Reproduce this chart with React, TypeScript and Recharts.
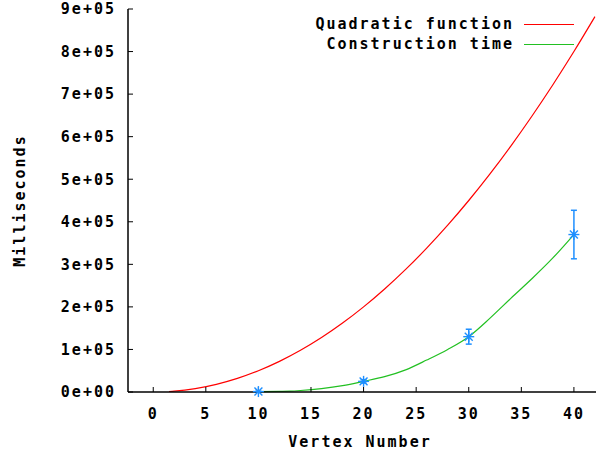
import React from 'react';
import { ComposedChart, Line, Scatter, XAxis, YAxis, ErrorBar } from 'recharts';

// Quadratic function curve (sampled)
const quadX = [1.5, 2, 4, 6, 8, 10, 12, 14, 16, 18, 20, 22, 24, 26, 28, 30, 32, 34, 36, 38, 40, 42];
const quadY = [1125, 2000, 8000, 18000, 32000, 50000, 72000, 98000, 128000, 162000, 200000, 242000, 288000, 338000, 392000, 450000, 512000, 578000, 648000, 722000, 800000, 882000];

// Construction time fitted curve
const fitX = [10, 12, 13, 14, 16, 18, 20, 22, 24, 26, 28, 30, 32, 34, 36, 38, 40];
const fitY = [1000, 1500, 2000, 3500, 8000, 15000, 25000, 36000, 52000, 75000, 100000, 130000, 173000, 220000, 266000, 315000, 370000];

// Measured points with error
const measX = [10, 20, 30, 40];
const measY = [1000, 25000, 130000, 370000];
const measErr = [1000, 4000, 17500, 57000];

const xTicks = [0, 5, 10, 15, 20, 25, 30, 35, 40];
const yTicks = [0, 100000, 200000, 300000, 400000, 500000, 600000, 700000, 800000, 900000];

const seriesNames = ['Quadratic function', 'Construction time'];
const RED = '#ff0000';
const GREEN = '#22c022';
const BLUE = '#1e8fff';

const quadData = quadX.map((x, i) => ({ x, y: quadY[i] }));
const fitData = fitX.map((x, i) => ({ x, y: fitY[i] }));
const measData = measX.map((x, i) => ({ x, y: measY[i], err: measErr[i] }));

const FONT = 'DejaVu Sans Mono';
const FS = 15;
const LS = '2px';
const tickStyle = { fill: '#000', fontSize: FS, fontFamily: FONT, fontWeight: 'bold', letterSpacing: LS } as any;

const fmtY = (v: number) => (v === 0 ? '0e+00' : `${Math.round(v / 100000)}e+05`);

const Star = (props: any) => {
  const { cx, cy } = props;
  if (cx == null || cy == null) return <g />;
  const r = 5.5;
  const d = r * 0.72;
  return (
    <g stroke={BLUE} strokeWidth={1.4}>
      <line x1={cx - r} y1={cy} x2={cx + r} y2={cy} />
      <line x1={cx} y1={cy - r} x2={cx} y2={cy + r} />
      <line x1={cx - d} y1={cy - d} x2={cx + d} y2={cy + d} />
      <line x1={cx - d} y1={cy + d} x2={cx + d} y2={cy - d} />
      <circle cx={cx} cy={cy} r={1.8} fill={BLUE} stroke="none" />
    </g>
  );
};

const YLabel = (props: any) => {
  const vb = props.viewBox || {};
  const cx = 20;
  const cy = (vb.y || 0) + (vb.height || 0) / 2;
  return (
    <text
      x={cx}
      y={cy}
      transform={`rotate(-90 ${cx} ${cy})`}
      textAnchor="middle"
      dominantBaseline="central"
      fontFamily={FONT}
      fontWeight="bold"
      fontSize={FS}
      letterSpacing={LS}
      fill="#000"
    >
      Milliseconds
    </text>
  );
};

const XLabel = (props: any) => {
  const vb = props.viewBox || {};
  const cx = (vb.x || 0) + (vb.width || 0) / 2;
  return (
    <text
      x={cx - 2}
      y={447}
      textAnchor="middle"
      fontFamily={FONT}
      fontWeight="bold"
      fontSize={FS}
      letterSpacing={LS}
      fill="#000"
    >
      Vertex Number
    </text>
  );
};

export default function App() {
  const legendColors = [RED, GREEN];
  return (
    <div style={{ position: 'absolute', left: 0, top: 0, width: 602, height: 455, background: '#fff' }}>
      <ComposedChart width={602} height={455} margin={{ top: 9, right: 6, bottom: 0, left: 0 }}>
        <XAxis
          dataKey="x"
          type="number"
          domain={[-2.4, 42.1]}
          ticks={xTicks}
          interval={0}
          height={63}
          tickSize={-5}
          tickMargin={21}
          tick={tickStyle}
          stroke="#000"
          axisLine={{ stroke: '#000', strokeWidth: 1.5 }}
          label={<XLabel />}
        />
        <XAxis
          xAxisId="top"
          orientation="top"
          dataKey="x"
          type="number"
          domain={[-2.4, 42.1]}
          ticks={xTicks}
          interval={0}
          height={0}
          tickSize={-5}
          tick={false}
          stroke="#000"
          axisLine={{ stroke: '#000', strokeWidth: 1.5 }}
        />
        <YAxis
          type="number"
          domain={[0, 900000]}
          ticks={yTicks}
          interval={0}
          width={128}
          tickSize={-5}
          tickMargin={17}
          tick={tickStyle}
          tickFormatter={fmtY}
          stroke="#000"
          axisLine={{ stroke: '#000', strokeWidth: 1.5 }}
          label={<YLabel />}
        />
        <YAxis
          yAxisId="right"
          orientation="right"
          type="number"
          domain={[0, 900000]}
          ticks={yTicks}
          interval={0}
          width={0}
          tickSize={-5}
          tick={false}
          stroke="#000"
          axisLine={{ stroke: '#000', strokeWidth: 1.5 }}
        />
        <Line
          data={quadData}
          dataKey="y"
          type="monotone"
          stroke={RED}
          strokeWidth={1.2}
          dot={false}
          isAnimationActive={false}
          name={seriesNames[0]}
        />
        <Line
          data={fitData}
          dataKey="y"
          type="monotone"
          stroke={GREEN}
          strokeWidth={1.2}
          dot={false}
          isAnimationActive={false}
          name={seriesNames[1]}
        />
        <Scatter data={measData} dataKey="y" shape={<Star />} isAnimationActive={false}>
          <ErrorBar dataKey="err" direction="y" width={3} stroke={BLUE} strokeWidth={1.5} />
        </Scatter>
      </ComposedChart>
      <div style={{ position: 'absolute', top: 14, right: 28, fontFamily: FONT, fontWeight: 'bold', fontSize: FS, letterSpacing: LS, color: '#000' }}>
        {seriesNames.map((n, i) => (
          <div key={n} style={{ display: 'flex', alignItems: 'center', justifyContent: 'flex-end', height: 20 }}>
            <span style={{ whiteSpace: 'pre' }}>{n}</span>
            <span style={{ display: 'inline-block', width: 50, height: 0, borderTop: `1.5px solid ${legendColors[i]}`, marginLeft: 10 }} />
          </div>
        ))}
      </div>
    </div>
  );
}
